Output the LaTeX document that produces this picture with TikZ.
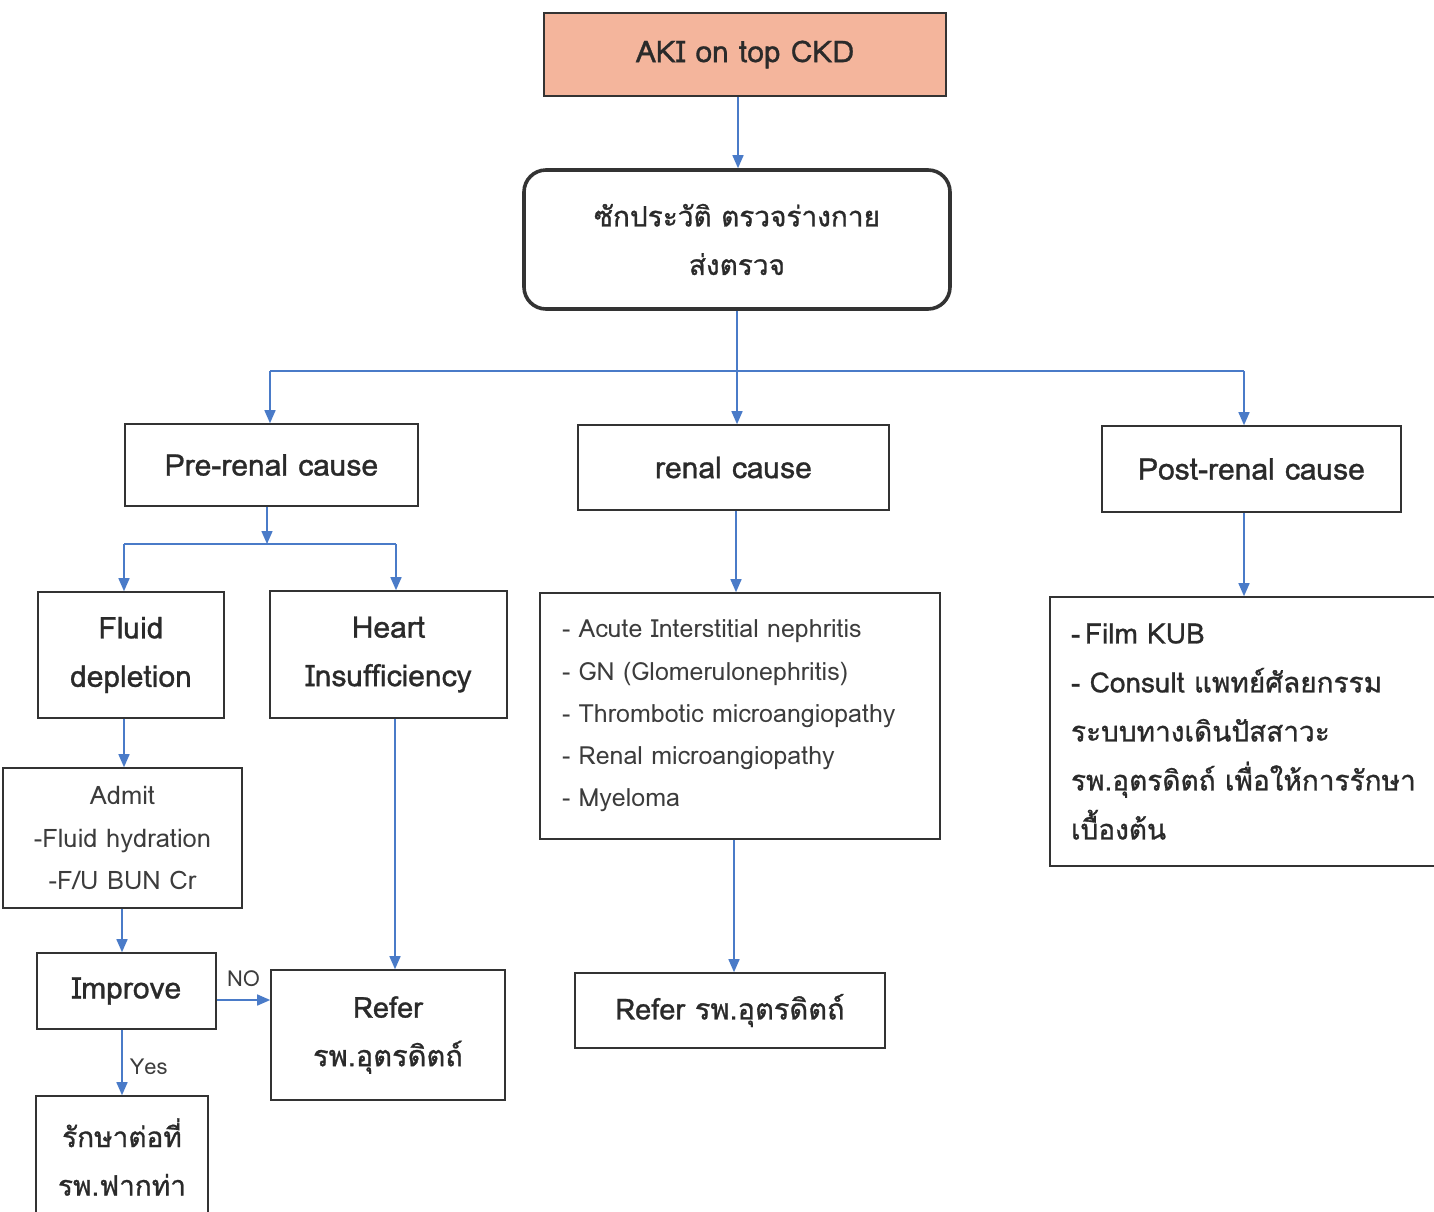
\documentclass[tikz,border=0pt]{standalone}
\usepackage{fontspec}
\setmainfont[Script=Thai, FakeBold=1.0]{Loma}
\newfontfamily\lightfont[Script=Thai]{Loma}
\usetikzlibrary{arrows.meta}
\definecolor{linkblue}{HTML}{4A7BC8}
\definecolor{salmon}{HTML}{F4B59C}
\definecolor{boxline}{HTML}{333333}
\definecolor{ink}{HTML}{2A2A2A}
\definecolor{softink}{HTML}{3C3C3C}
\tikzset{
  x=1pt, y=-1pt,
  box/.style={draw=boxline, line width=1.6pt, text=ink, align=center, inner sep=0pt,
    font=\fontsize{29}{48.5}\selectfont},
  latin/.style={font=\fontsize{30}{48.5}\selectfont},
  thai/.style={font=\fontsize{28}{48.5}\selectfont},
  listbox/.style={draw=boxline, line width=1.6pt, text=softink, align=left, inner sep=0pt},
  link/.style={draw=linkblue, line width=1.5pt},
  flow/.style={link, -{Triangle[length=13pt,width=11pt]}},
  tag/.style={text=softink, font=\lightfont\fontsize{22}{24}\selectfont, inner sep=0pt},
}
\begin{document}
\begin{tikzpicture}
\useasboundingbox (0,0) rectangle (1434,1211);
\clip (0,0) rectangle (1434,1211);

% top level
\node[box, latin, fill=salmon, minimum width=402pt, minimum height=83pt] (aki) at (745,54.5) {AKI on top CKD};
\node[box, thai, line width=3.6pt, rounded corners=22pt, minimum width=426pt, minimum height=139pt] (hx) at (737,239.5)
  {ซักประวัติ ตรวจร่างกาย\\ส่งตรวจ};

% causes
\node[box, latin, minimum width=293pt, minimum height=82pt] (pre) at (271.5,465) {Pre-renal cause};
\node[box, latin, minimum width=311pt, minimum height=85pt] (ren) at (733.5,467.5) {renal cause};
\node[box, latin, minimum width=299pt, minimum height=86pt] (post) at (1251.5,469) {Post-renal cause};

% pre-renal branch
\node[box, latin, minimum width=186pt, minimum height=126pt] (fluid) at (131,655) {Fluid\\depletion};
\node[box, latin, minimum width=237pt, minimum height=127pt] (heart) at (388.5,654.5) {Heart\\Insufficiency};
\node[box, text=softink, minimum width=239pt, minimum height=140pt, font=\lightfont\fontsize{25.5}{42.5}\selectfont] (admit) at (122.5,838)
  {Admit\\-Fluid hydration\\-F/U BUN Cr};
\node[box, latin, minimum width=179pt, minimum height=76pt] (improve) at (126.5,991) {Improve};
\node[box, minimum width=234pt, minimum height=130pt] (refa) at (388,1035) {Refer\\รพ.อุตรดิตถ์};
\node[box, thai, minimum width=172pt, minimum height=122pt] (stay) at (122,1157) {รักษาต่อที่\\รพ.ฟากท่า};

% renal branch
\node[listbox, minimum width=400pt, minimum height=246pt, text width=356pt, inner xsep=22pt,
  font=\lightfont\fontsize{25}{42.3}\selectfont] (causes) at (740,716)
  {- Acute Interstitial nephritis\\- GN (Glomerulonephritis)\\- Thrombotic microangiopathy\\- Renal microangiopathy\\- Myeloma};
\node[box, minimum width=310pt, minimum height=75pt] (refb) at (730,1010.5) {Refer รพ.อุตรดิตถ์};

% post-renal branch
\node[listbox, text=ink, minimum width=400pt, minimum height=269pt, text width=358pt, inner xsep=21pt,
  font=\fontsize{28}{49}\selectfont] (uro) at (1250,731.5)
  {-\,Film KUB\\- Consult แพทย์ศัลยกรรม\\ระบบทางเดินปัสสาวะ\\รพ.อุตรดิตถ์ เพื่อให้การรักษา\\เบื้องต้น};

% connectors: top
\draw[flow] (aki.south -| 738,0) -- (hx.north -| 738,0);
\coordinate (busL) at (270,371);
\coordinate (busM) at (737,371);
\coordinate (busR) at (1244,371);
\draw[link] (hx.south -| busM) -- (busM);
\draw[link] (busL) -- (busR);
\draw[flow] (busL) -- (pre.north -| busL);
\draw[flow] (busM) -- (ren.north -| busM);
\draw[flow] (busR) -- (post.north -| busR);

% connectors: pre-renal
\coordinate (preJ) at (267,544);
\coordinate (preL) at (124,544);
\coordinate (preR) at (396,544);
\draw[flow] (pre.south -| preJ) -- (preJ);
\draw[link] (preL) -- (preR);
\draw[flow] (preL) -- (fluid.north -| preL);
\draw[flow] (preR) -- (heart.north -| preR);
\draw[flow] (fluid.south -| 124,0) -- (admit.north -| 124,0);
\draw[flow] (admit.south -| 122,0) -- (improve.north -| 122,0);
\draw[flow] (heart.south -| 395,0) -- (refa.north -| 395,0);
\draw[flow] (improve.east |- 0,1000) -- node[tag, above=13pt, pos=0.5] (nolab) {NO} (refa.west |- 0,1000);
\draw[flow] (improve.south -| 122,0) -- node[tag, right=7pt, pos=0.57] (yeslab) {Yes} (stay.north -| 122,0);

% connectors: renal and post-renal
\draw[flow] (ren.south -| 736,0) -- (causes.north -| 736,0);
\draw[flow] (causes.south -| 734,0) -- (refb.north -| 734,0);
\draw[flow] (post.south -| 1244,0) -- (uro.north -| 1244,0);
\end{tikzpicture}
\end{document}
